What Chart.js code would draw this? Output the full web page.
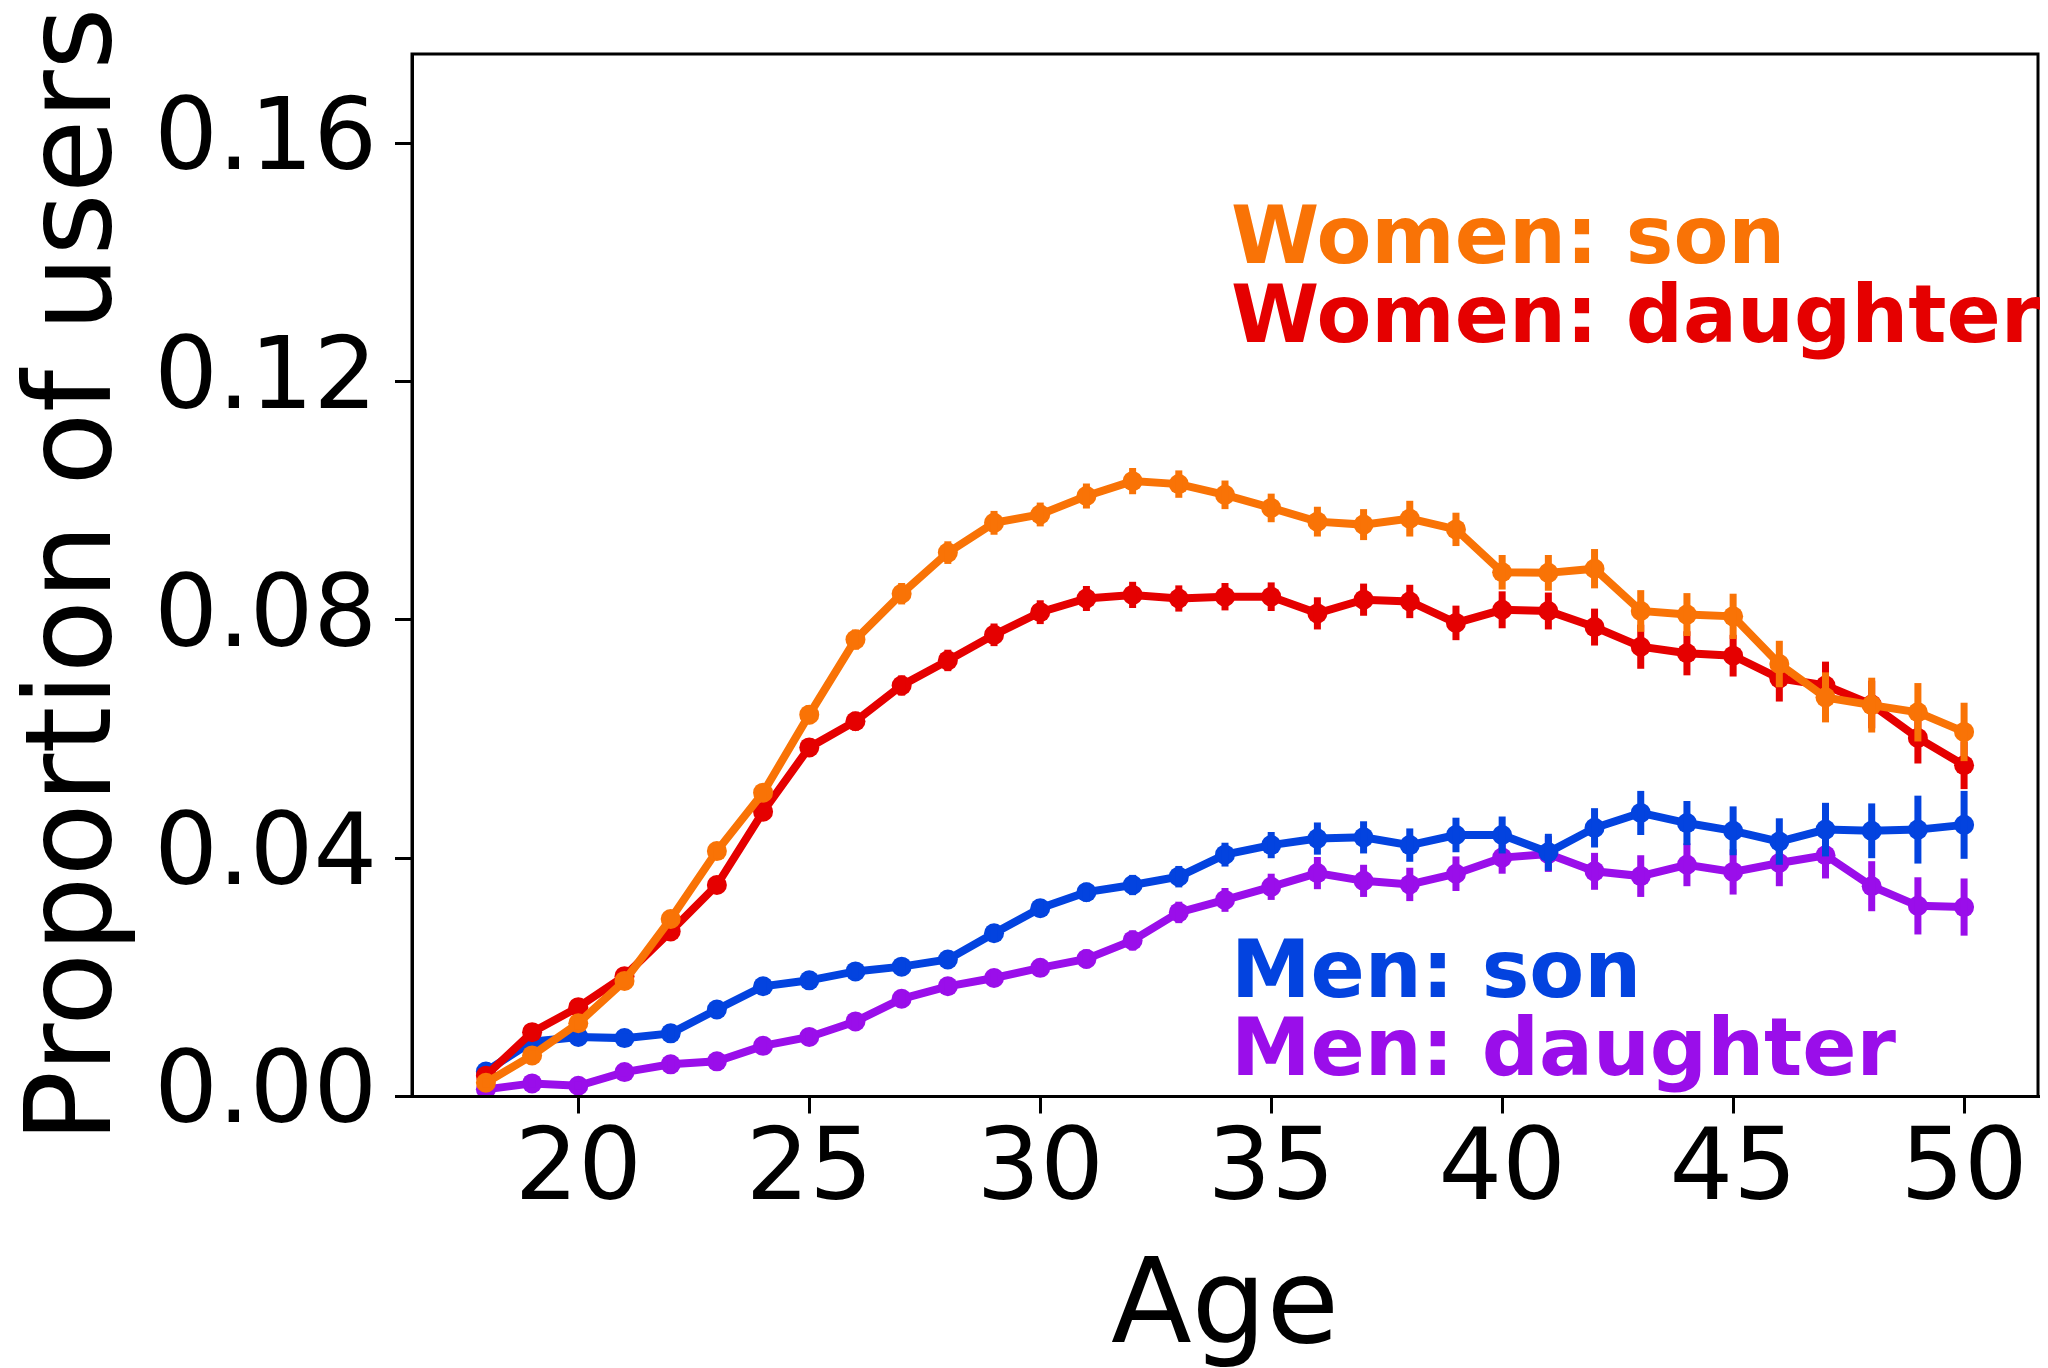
<!DOCTYPE html>
<html>
<head>
<meta charset="utf-8">
<script src="https://cdn.jsdelivr.net/npm/chart.js@4/dist/chart.umd.min.js"></script>
<style>
  html, body { margin: 0; padding: 0; background: #fff; }
  #c { display: block; }
</style>
</head>
<body>
<canvas id="c" width="2048" height="1368" style="width:2048px;height:1368px"></canvas>
<script>
// ---- data ----
const ages = [18,19,20,21,22,23,24,25,26,27,28,29,30,31,32,33,34,35,36,37,38,39,40,41,42,43,44,45,46,47,48,49,50];

const womenSon = [0.0023,0.0069,0.0123,0.0194,0.0298,0.0412,0.0510,0.0641,0.0767,0.0844,0.0913,0.0963,0.0977,0.1008,0.1033,0.1028,0.1010,0.0988,0.0965,0.0960,0.0970,0.0952,0.0880,0.0879,0.0886,0.0815,0.0809,0.0806,0.0726,0.0670,0.0657,0.0645,0.0612];
const womenSonErr = [0.0008,0.0009,0.0010,0.0011,0.0012,0.0013,0.0014,0.0016,0.0017,0.0018,0.0019,0.0020,0.0020,0.0021,0.0022,0.0023,0.0024,0.0024,0.0025,0.0026,0.0030,0.0028,0.0029,0.0030,0.0033,0.0035,0.0036,0.0038,0.0039,0.0042,0.0046,0.0049,0.0049];

const womenDaughter = [0.0035,0.0108,0.0150,0.0202,0.0277,0.0355,0.0478,0.0586,0.0630,0.0690,0.0732,0.0775,0.0813,0.0836,0.0842,0.0836,0.0839,0.0839,0.0811,0.0834,0.0831,0.0795,0.0817,0.0815,0.0788,0.0755,0.0744,0.0740,0.0702,0.0690,0.0658,0.0602,0.0556];
const womenDaughterErr = [0.0008,0.0009,0.0010,0.0011,0.0012,0.0013,0.0014,0.0015,0.0016,0.0017,0.0018,0.0019,0.0020,0.0021,0.0022,0.0022,0.0023,0.0024,0.0027,0.0027,0.0028,0.0029,0.0031,0.0031,0.0031,0.0037,0.0037,0.0035,0.0039,0.0040,0.0040,0.0043,0.0040];

const menSon = [0.0042,0.0092,0.0100,0.0098,0.0106,0.0146,0.0185,0.0195,0.0210,0.0218,0.0230,0.0274,0.0316,0.0343,0.0355,0.0369,0.0406,0.0422,0.0433,0.0435,0.0422,0.0439,0.0439,0.0410,0.0451,0.0476,0.0459,0.0446,0.0428,0.0448,0.0446,0.0448,0.0456];
const menSonErr = [0.0007,0.0008,0.0008,0.0008,0.0009,0.0010,0.0011,0.0012,0.0012,0.0013,0.0013,0.0014,0.0015,0.0016,0.0017,0.0018,0.0020,0.0022,0.0027,0.0027,0.0028,0.0029,0.0031,0.0031,0.0033,0.0037,0.0037,0.0041,0.0039,0.0045,0.0046,0.0057,0.0057];

const menDaughter = [0.0012,0.0022,0.0018,0.0041,0.0054,0.0059,0.0085,0.0100,0.0126,0.0164,0.0185,0.0199,0.0216,0.0231,0.0262,0.0309,0.0330,0.0352,0.0375,0.0362,0.0356,0.0374,0.0401,0.0407,0.0378,0.0370,0.0389,0.0377,0.0392,0.0405,0.0353,0.0320,0.0318];
const menDaughterErr = [0.0006,0.0007,0.0007,0.0008,0.0008,0.0009,0.0010,0.0010,0.0011,0.0012,0.0013,0.0014,0.0015,0.0016,0.0017,0.0018,0.0020,0.0022,0.0027,0.0027,0.0028,0.0029,0.0027,0.0030,0.0031,0.0035,0.0036,0.0038,0.0039,0.0039,0.0042,0.0048,0.0048];

const xTicks = [20,25,30,35,40,45,50];
const yTicks = [0.00,0.04,0.08,0.12,0.16];

const seriesNames = ['Women: son','Women: daughter','Men: son','Men: daughter'];
const seriesColors = ['#f97306','#e50000','#0343df','#9a0eea'];
// annotation anchor (data units: age, proportion at text baseline)
const labelX = [34.13,34.13,34.13,34.13];
const labelY = [0.1399,0.1267,0.0167,0.0036];

const xTitle = 'Age';
const yTitle = 'Proportion of users';

// ---- build chart ----
const FONT = "'DejaVu Sans', 'Liberation Sans', sans-serif";
const values = [womenSon, womenDaughter, menSon, menDaughter];
const errors = [womenSonErr, womenDaughterErr, menSonErr, menDaughterErr];

const datasets = values.map((v, i) => ({
  label: seriesNames[i],
  data: ages.map((a, k) => ({x: a, y: v[k]})),
  errs: errors[i],
  borderColor: seriesColors[i],
  backgroundColor: seriesColors[i],
  borderWidth: 8,
  pointRadius: 10,
  pointBorderWidth: 0,
  pointHoverRadius: 10,
  pointBackgroundColor: seriesColors[i],
  tension: 0,
  fill: false
}));

const errorBarPlugin = {
  id: 'errorBars',
  afterDatasetDraw(chart, args) {
    const ds = chart.data.datasets[args.index];
    const xs = chart.scales.x, ys = chart.scales.y;
    const ctx = chart.ctx;
    ctx.save();
    ctx.strokeStyle = ds.borderColor;
    ctx.lineWidth = 7;
    ctx.lineCap = 'butt';
    ds.data.forEach((p, k) => {
      const e = ds.errs[k];
      const px = xs.getPixelForValue(p.x);
      ctx.beginPath();
      ctx.moveTo(px, ys.getPixelForValue(p.y - e));
      ctx.lineTo(px, ys.getPixelForValue(p.y + e));
      ctx.stroke();
    });
    ctx.restore();
  }
};

const framePlugin = {
  id: 'frame',
  afterDraw(chart) {
    const ctx = chart.ctx, a = chart.chartArea;
    const xs = chart.scales.x, ys = chart.scales.y;
    ctx.save();
    // box
    ctx.strokeStyle = '#000';
    ctx.lineWidth = 3;
    ctx.strokeRect(a.left, a.top, a.right - a.left, a.bottom - a.top);
    // annotations
    ctx.font = 'bold 80px ' + FONT;
    ctx.textAlign = 'left';
    ctx.textBaseline = 'alphabetic';
    seriesNames.forEach((n, i) => {
      ctx.fillStyle = seriesColors[i];
      ctx.fillText(n, xs.getPixelForValue(labelX[i]), ys.getPixelForValue(labelY[i]));
    });
    // axis titles
    ctx.fillStyle = '#000';
    ctx.font = '118px ' + FONT;
    ctx.textAlign = 'center';
    ctx.fillText(xTitle, (a.left + a.right) / 2, 1342);
    ctx.save();
    ctx.translate(110, (a.top + a.bottom) / 2);
    ctx.rotate(-Math.PI / 2);
    ctx.font = '120px ' + FONT;
    ctx.fillText(yTitle, 0, 0);
    ctx.restore();
    ctx.restore();
  }
};

new Chart(document.getElementById('c'), {
  type: 'line',
  data: { datasets },
  options: {
    responsive: false,
    devicePixelRatio: 1,
    animation: false,
    events: [],
    layout: { padding: { left: 0, right: 4, top: 54, bottom: 0 } },
    plugins: { legend: { display: false }, tooltip: { enabled: false } },
    scales: {
      x: {
        type: 'linear',
        min: 16.4, max: 51.6,
        afterBuildTicks: s => { s.ticks = xTicks.map(v => ({value: v})); },
        afterFit: s => { s.height = 1368 - 1096.5; s.paddingLeft = 0; s.paddingRight = 0; },
        ticks: { color: '#000', font: { family: FONT, size: 100 }, padding: 0, maxRotation: 0, autoSkip: false,
                 callback: v => String(v) },
        grid: { drawOnChartArea: false, drawTicks: true, tickLength: 17, tickWidth: 3, lineWidth: 3, color: '#000' },
        border: { display: true, color: '#000', width: 3 }
      },
      y: {
        type: 'linear',
        min: 0, max: 0.175,
        afterBuildTicks: s => { s.ticks = yTicks.map(v => ({value: v})); },
        afterFit: s => { s.width = 412; s.paddingTop = 0; s.paddingBottom = 0; },
        ticks: { color: '#000', font: { family: FONT, size: 100 }, padding: 18, autoSkip: false,
                 callback: v => Number(v).toFixed(2) },
        grid: { drawOnChartArea: false, drawTicks: true, tickLength: 17, tickWidth: 3, lineWidth: 3, color: '#000' },
        border: { display: true, color: '#000', width: 3 }
      }
    }
  },
  plugins: [errorBarPlugin, framePlugin]
});
</script>
</body>
</html>
